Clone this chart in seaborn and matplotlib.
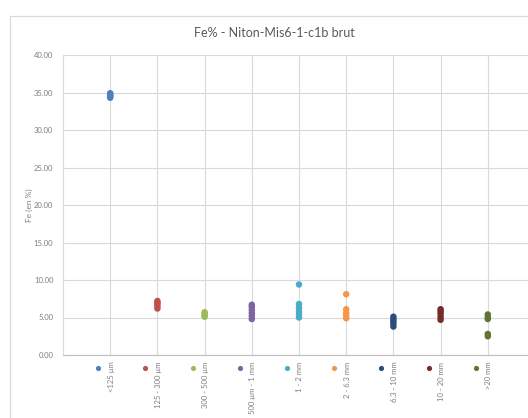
import matplotlib.pyplot as plt
import matplotlib.transforms as mtransforms
from matplotlib.patches import Rectangle
import pandas as pd
import seaborn as sns

# Fe content per size fraction
categories = ['<125 µm', '125 - 300 µm', '300 - 500 µm', '500 µm - 1 mm', '1 - 2 mm',
              '2 - 6.3 mm', '6.3 - 10 mm', '10 - 20 mm', '>20 mm']
colors = ['#4F81BD', '#C0504D', '#9BBB59', '#8064A2', '#4BACC6',
          '#F79646', '#2C4D75', '#772C2A', '#5F7530']

fe_lt125 = [34.3, 34.5, 34.6, 34.8, 34.9]
fe_125_300 = [6.2, 6.5, 6.8, 7.0, 7.2]
fe_300_500 = [5.1, 5.3, 5.5, 5.7]
fe_500_1 = [4.8, 5.2, 5.6, 6.0, 6.4, 6.7]
fe_1_2 = [9.4, 6.8, 6.3, 5.8, 5.4, 5.0]
fe_2_63 = [8.1, 6.1, 5.6, 5.2, 4.9]
fe_63_10 = [3.8, 4.2, 4.5, 4.8, 5.1]
fe_10_20 = [4.7, 5.1, 5.5, 5.8, 6.1]
fe_gt20 = [5.4, 5.0, 4.8, 2.8, 2.5]

series = [fe_lt125, fe_125_300, fe_300_500, fe_500_1, fe_1_2,
          fe_2_63, fe_63_10, fe_10_20, fe_gt20]

y_ticks = [0, 5, 10, 15, 20, 25, 30, 35, 40]

# long table: one row per measurement, x = category number (1..9)
rows = []
for i, (cat, vals) in enumerate(zip(categories, series)):
    for v in vals:
        rows.append({'pos': i + 1, 'fraction': cat, 'Fe': v})
df = pd.DataFrame(rows)

sns.set_style('white')
plt.rcParams['font.family'] = ['Lato', 'DejaVu Sans']

fig = plt.figure(figsize=(5.28, 4.18), dpi=100)
W, H = 528, 418

# chart area frame (cropped on the right / bottom like the screenshot)
fig.patches.append(Rectangle((10 / W, -0.1), 1.2, 1 - 16 / H + 0.1, transform=fig.transFigure,
                             fill=False, edgecolor='#D9D9D9', linewidth=0.9))

ax = fig.add_axes([63 / W, 1 - 355 / H, (535 - 63) / W, 300 / H])

sns.scatterplot(data=df, x='pos', y='Fe', hue='fraction', palette=colors,
                hue_order=categories, s=22, linewidth=0, legend=False, ax=ax, zorder=3)

ax.set_xlim(0, 10)
ax.set_ylim(0, 40)
ax.set_xticks(range(1, 10))
ax.set_xticklabels([])
ax.set_yticks(y_ticks)
ax.set_yticklabels([f'{t:.2f}' for t in y_ticks], fontsize=5.5, color='#7F7F7F')
ax.tick_params(axis='both', length=0, pad=7)
ax.grid(True, color='#D9D9D9', linewidth=0.8)
ax.set_axisbelow(True)
for side in ['top', 'right']:
    ax.spines[side].set_visible(False)
ax.spines['left'].set_color('#D9D9D9')
ax.spines['bottom'].set_color('#BFBFBF')
ax.spines['left'].set_linewidth(0.8)
ax.spines['bottom'].set_linewidth(0.8)
ax.set_xlabel('')
ax.set_ylabel('')

fig.text(29 / W, 1 - 205 / H, 'Fe (en %)', rotation=90, ha='center', va='center',
         fontsize=6, color='#7F7F7F')
fig.text(274 / W, 1 - 33 / H, 'Fe% - Niton-Mis6-1-c1b brut', ha='center', va='center',
         fontsize=9, color='#595959')

# legend drawn under each category, text rotated like the Excel legend
trans = mtransforms.blended_transform_factory(ax.transData, ax.transAxes)
for i, (cat, col) in enumerate(zip(categories, colors)):
    ax.scatter([i + 1 - 0.255], [-0.043], s=14, color=col, linewidth=0,
               transform=trans, clip_on=False)
    ax.text(i + 1 + 0.02, -0.022, cat, rotation=90, ha='center', va='top',
            fontsize=5.5, color='#7F7F7F', transform=trans, clip_on=False)

fig.savefig('out.png', dpi=100, facecolor='white')
